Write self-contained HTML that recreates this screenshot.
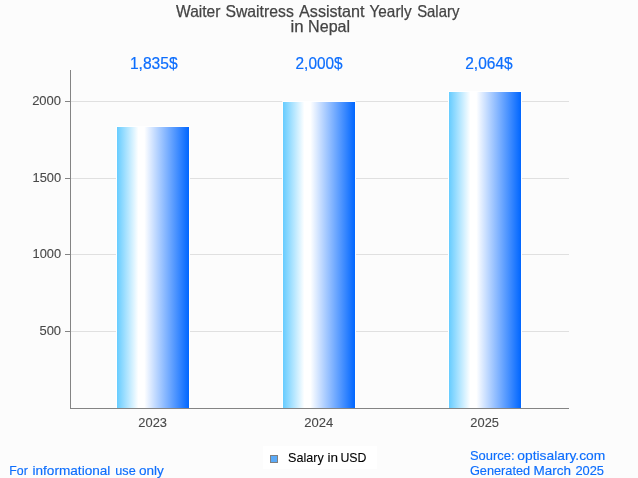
<!DOCTYPE html>
<html><head><meta charset="utf-8"><title>Waiter Swaitress Assistant Yearly Salary in Nepal</title>
<style>
html,body{margin:0;padding:0;background:#fcfcfc;overflow:hidden;}
svg{display:block;font-family:"Liberation Sans",sans-serif;}
</style></head>
<body>
<svg width="638" height="478" viewBox="0 0 638 478">
<defs>
<linearGradient id="g" x1="0" y1="0" x2="1" y2="0">
<stop offset="0" stop-color="#66ccff"/>
<stop offset="0.297" stop-color="#ffffff"/>
<stop offset="0.38" stop-color="#ffffff"/>
<stop offset="1" stop-color="#0066ff"/>
</linearGradient>
</defs>
<rect x="0" y="0" width="638" height="478" fill="#fcfcfc"/>
<!-- gridlines -->
<g stroke="#e0e0e0" stroke-width="1" shape-rendering="crispEdges">
<line x1="71" x2="569" y1="101.5" y2="101.5"/>
<line x1="71" x2="569" y1="178.5" y2="178.5"/>
<line x1="71" x2="569" y1="254.5" y2="254.5"/>
<line x1="71" x2="569" y1="331.5" y2="331.5"/>
</g>
<!-- ticks -->
<g stroke="#848484" stroke-width="1" shape-rendering="crispEdges">
<line x1="65" x2="70" y1="101.5" y2="101.5"/>
<line x1="65" x2="70" y1="178.5" y2="178.5"/>
<line x1="65" x2="70" y1="254.5" y2="254.5"/>
<line x1="65" x2="70" y1="331.5" y2="331.5"/>
</g>
<!-- bars -->
<g fill="url(#g)">
<rect x="117" y="127" width="72" height="281"/>
<rect x="283" y="102" width="72" height="306"/>
<rect x="449" y="92" width="72" height="316"/>
</g>
<g fill="none" stroke="#ffffff" stroke-width="1">
<path d="M116.5 408V126.5H189.5V408"/>
<path d="M282.5 408V101.5H355.5V408"/>
<path d="M448.5 408V91.5H521.5V408"/>
</g>
<!-- axes -->
<g stroke="#848484" stroke-width="1" shape-rendering="crispEdges">
<line x1="70.5" x2="70.5" y1="70" y2="409"/>
<line x1="70" x2="569" y1="408.5" y2="408.5"/>
</g>
<!-- title -->
<g fill="#444" stroke="#444" stroke-width="0.25" font-size="16.5">
<text y="16.8"><tspan x="176.05" textLength="44.32" lengthAdjust="spacingAndGlyphs">Waiter</tspan> <tspan x="225.45" textLength="68.34" lengthAdjust="spacingAndGlyphs">Swaitress</tspan> <tspan x="299.05" textLength="65.49" lengthAdjust="spacingAndGlyphs">Assistant</tspan> <tspan x="369.55" textLength="42.00" lengthAdjust="spacingAndGlyphs">Yearly</tspan> <tspan x="417.15" textLength="42.22" lengthAdjust="spacingAndGlyphs">Salary</tspan></text>
<text y="31.7"><tspan x="290.43" textLength="13.10" lengthAdjust="spacingAndGlyphs">in</tspan> <tspan x="308.08" textLength="42.02" lengthAdjust="spacingAndGlyphs">Nepal</tspan></text>
</g>
<!-- value labels -->
<g fill="#0d6efd" stroke="#0d6efd" stroke-width="0.2" font-size="16.5">
<text y="68.8"><tspan x="129.90" textLength="47.81" lengthAdjust="spacingAndGlyphs">1,835$</tspan></text>
<text y="68.8"><tspan x="295.55" textLength="47.06" lengthAdjust="spacingAndGlyphs">2,000$</tspan></text>
<text y="68.8"><tspan x="465.25" textLength="47.37" lengthAdjust="spacingAndGlyphs">2,064$</tspan></text>
</g>
<!-- axis labels -->
<g fill="#484848" stroke="#484848" stroke-width="0.1" font-size="13">
<text y="105.0"><tspan x="32.15" textLength="28.93" lengthAdjust="spacingAndGlyphs">2000</tspan></text>
<text y="182.0"><tspan x="32.55" textLength="28.53" lengthAdjust="spacingAndGlyphs">1500</tspan></text>
<text y="258.0"><tspan x="32.55" textLength="28.53" lengthAdjust="spacingAndGlyphs">1000</tspan></text>
<text y="335.0"><tspan x="39.45" textLength="21.63" lengthAdjust="spacingAndGlyphs">500</tspan></text>
<text y="427.0"><tspan x="138.35" textLength="28.63" lengthAdjust="spacingAndGlyphs">2023</tspan></text>
<text y="427.0"><tspan x="304.35" textLength="29.03" lengthAdjust="spacingAndGlyphs">2024</tspan></text>
<text y="427.0"><tspan x="470.35" textLength="28.63" lengthAdjust="spacingAndGlyphs">2025</tspan></text>
</g>
<!-- legend -->
<rect x="263" y="446" width="114" height="23" fill="#ffffff"/>
<rect x="270.5" y="455.5" width="7" height="7" fill="#5aaaf8" stroke="#808080" stroke-width="1"/>
<g fill="#000" stroke="#000" stroke-width="0.1" font-size="13">
<text y="461.9"><tspan x="288.10" textLength="35.72" lengthAdjust="spacingAndGlyphs">Salary</tspan> <tspan x="327.50" textLength="10.54" lengthAdjust="spacingAndGlyphs">in</tspan> <tspan x="340.45" textLength="26.02" lengthAdjust="spacingAndGlyphs">USD</tspan></text>
</g>
<!-- footer -->
<g fill="#0d6efd" stroke="#0d6efd" stroke-width="0.15" font-size="13">
<text y="474.6"><tspan x="9.25" textLength="18.51" lengthAdjust="spacingAndGlyphs">For</tspan> <tspan x="32.50" textLength="77.88" lengthAdjust="spacingAndGlyphs">informational</tspan> <tspan x="115.30" textLength="20.42" lengthAdjust="spacingAndGlyphs">use</tspan> <tspan x="139.00" textLength="24.88" lengthAdjust="spacingAndGlyphs">only</tspan></text>
<text y="460.0"><tspan x="469.90" textLength="44.61" lengthAdjust="spacingAndGlyphs">Source:</tspan> <tspan x="517.30" textLength="87.98" lengthAdjust="spacingAndGlyphs">optisalary.com</tspan></text>
<text y="474.7"><tspan x="469.90" textLength="60.23" lengthAdjust="spacingAndGlyphs">Generated</tspan> <tspan x="533.56" textLength="37.48" lengthAdjust="spacingAndGlyphs">March</tspan> <tspan x="575.40" textLength="28.63" lengthAdjust="spacingAndGlyphs">2025</tspan></text>
</g>
</svg>
</body></html>
